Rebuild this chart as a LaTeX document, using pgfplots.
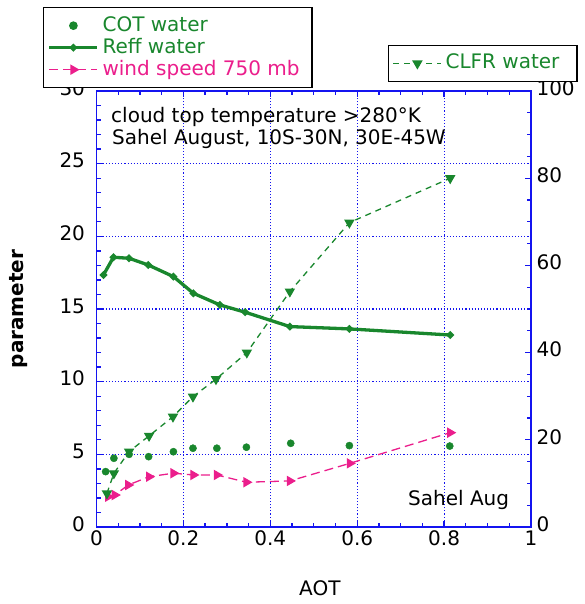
\documentclass[border=0pt]{standalone}
\usepackage{pgfplots}
\pgfplotsset{compat=1.18}
\usepackage{fontspec}
\setmainfont{DejaVu Sans}
\definecolor{cgreen}{RGB}{25,135,45}
\definecolor{cpink}{RGB}{235,30,140}
\definecolor{cblue}{RGB}{20,20,240}

\begin{document}
\begin{tikzpicture}
\useasboundingbox (0pt,0pt) rectangle (584pt,604pt);
\pgfplotsset{
  every axis/.append style={
    scale only axis, width=434.5pt, height=436pt,
    at={(96.5pt,77pt)}, anchor=south west,
    xmin=0, xmax=1,
    font=\fontsize{20}{22}\selectfont,
    /pgf/number format/assume math mode=true,
    axis line style={cblue, line width=1.6pt},
    tick style={cblue, line width=1.3pt},
    tick align=inside,
    major tick length=6pt, minor tick length=4pt,
    legend cell align=left,
  },
  mylegimg/.style={legend image code/.code={\draw[mark repeat=2,mark phase=2,##1] plot coordinates {(0pt,0pt) (24pt,0pt) (48pt,0pt)};}},
}
\begin{axis}[
  ymin=0, ymax=30,
  xtick={0,0.2,0.4,0.6,0.8,1},
  ytick={0,5,10,15,20,25,30},
  minor x tick num=3, minor y tick num=4,
  ytick pos=left,
  grid=major,
  major grid style={cblue, line width=1.1pt, dash pattern=on 1.1pt off 2pt},
  xlabel={AOT}, ylabel={\textbf{parameter}},
  xlabel style={at={(axis description cs:0.514,-0.14)}, anchor=center},
  ylabel style={at={(axis description cs:-0.18,0.5)}, anchor=center},
  yticklabel style={xshift=-8pt, yshift=3pt},
  legend style={at={(rel axis cs:-0.123,1.1927)}, anchor=north west, draw=black, line width=1.4pt, fill=white,
    inner xsep=4pt, inner ysep=7pt, row sep=0pt, column sep=2pt,
    nodes={inner sep=1.5pt, text height=15pt, text depth=4pt}},
]
\addplot[only marks, mark=*, mark size=3.6pt, color=cgreen, mylegimg] coordinates {
(0.021,3.81) (0.040,4.73) (0.075,5.00) (0.120,4.84) (0.177,5.18) (0.222,5.42)
(0.277,5.42) (0.345,5.49) (0.447,5.76) (0.582,5.60) (0.813,5.57)};
\addlegendentry{\textcolor{cgreen}{COT water}}
\addplot[cgreen, line width=3.3pt, mark=*, mark size=1.8pt, mylegimg] coordinates {
(0.016,17.34) (0.039,18.56) (0.075,18.49) (0.119,18.03) (0.177,17.23) (0.223,16.08)
(0.284,15.28) (0.342,14.78) (0.445,13.79) (0.582,13.63) (0.814,13.21)};
\addlegendentry{\textcolor{cgreen}{Reff water}}
\addplot[cpink, line width=1.3pt, dash pattern=on 9pt off 5pt, mark=triangle*, mark size=4.8pt,
  mark options={solid, rotate=-90}, mylegimg] coordinates {
(0.027,2.09) (0.042,2.20) (0.073,2.89) (0.121,3.46) (0.177,3.70) (0.223,3.58)
(0.277,3.58) (0.345,3.08) (0.445,3.17) (0.583,4.38) (0.814,6.49)};
\addlegendentry{\textcolor{cpink}{wind speed 750 mb}\hspace*{7pt}}
\end{axis}
\begin{axis}[
  ymin=0, ymax=100,
  axis x line=none, axis y line*=right,
  ytick={0,20,40,60,80,100}, minor y tick num=3,
  yticklabel style={xshift=2pt, yshift=3pt},
  legend style={at={(rel axis cs:0.671,1.106)}, anchor=north west, draw=black, line width=1.4pt, fill=white,
    inner xsep=4pt, inner ysep=7pt, column sep=2pt,
    nodes={inner sep=1.5pt, text height=15pt, text depth=4pt}},
]
\addplot[cgreen, line width=1.3pt, dash pattern=on 6pt off 5pt, mark=triangle*, mark size=4.8pt,
  mark options={solid, rotate=180}, mylegimg] coordinates {
(0.024,7.7) (0.040,12.3) (0.075,17.3) (0.121,20.9) (0.176,25.3) (0.222,29.9)
(0.275,33.9) (0.346,40.0) (0.445,54.0) (0.582,69.8) (0.814,80.0)};
\addlegendentry{\textcolor{cgreen}{CLFR water}\hspace*{12pt}}
\end{axis}
\node[anchor=base west, inner sep=0pt, font=\fontsize{20}{22}\selectfont] at (111pt,481pt) {cloud top temperature >280°K};
\node[anchor=base west, inner sep=0pt, font=\fontsize{20}{22}\selectfont] at (112pt,459pt) {Sahel August, 10S-30N, 30E-45W};
\node[anchor=base west, inner sep=0pt, font=\fontsize{20}{22}\selectfont] at (408pt,98pt) {Sahel Aug};
\end{tikzpicture}
\end{document}
